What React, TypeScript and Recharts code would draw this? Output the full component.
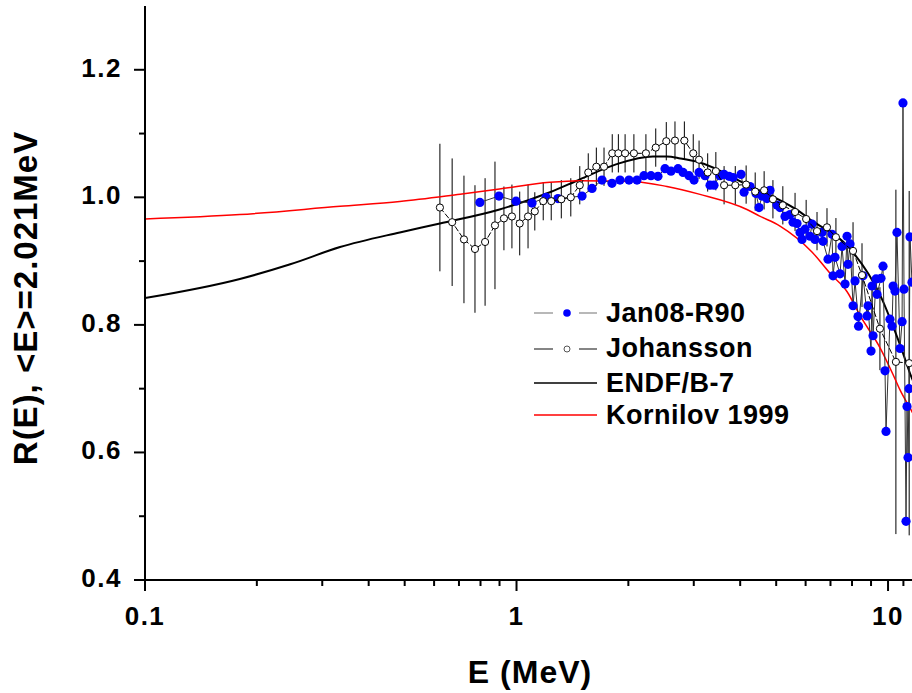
import React from 'react';
import {
  ComposedChart, Line, Scatter, XAxis, YAxis, ErrorBar
} from 'recharts';

const FONT = "'Liberation Sans', Arial, Helvetica, sans-serif";

// Jan08-R90 (filled blue dots)
const janE = [
  0.797, 0.897, 0.997, 1.101, 1.201, 1.293, 1.501, 1.597, 1.699, 1.807,
  1.899, 2.008, 2.110, 2.203, 2.301, 2.403, 2.510, 2.605, 2.721, 2.807,
  2.913, 3.005, 3.099, 3.217, 3.318, 3.401, 3.530, 3.618, 3.733, 3.827,
  4.021, 4.097, 4.252, 4.413, 4.496, 4.580, 4.724, 4.813, 5.025, 5.120,
  5.281, 5.448, 5.550, 5.689, 5.796, 5.868, 5.979, 6.166, 6.243, 6.361,
  6.643, 6.683, 6.894, 7.068, 7.112, 7.20, 7.427, 7.52, 7.662, 7.756,
  7.804, 7.902, 8.051, 8.151, 8.303, 8.33, 8.565, 8.781, 8.836, 9.00,
  9.057, 9.113, 9.284, 9.342, 9.574, 9.694, 9.815, 9.876, 10.12, 10.25,
  10.32, 10.44, 10.57, 10.77, 10.91, 10.97, 11.04, 11.18, 11.25, 11.32,
  11.39, 11.46, 11.60,
];
const janR = [
  0.992, 1.002, 0.994, 0.991, 1.0, 0.998, 1.002, 1.014, 1.027, 1.022,
  1.027, 1.027, 1.027, 1.034, 1.034, 1.033, 1.045, 1.041, 1.045, 1.039,
  1.034, 1.027, 1.039, 1.034, 1.019, 1.019, 1.034, 1.036, 1.033, 1.031,
  1.036, 1.008, 1.017, 1.006, 0.984, 1.002, 0.998, 1.011, 0.988, 0.984,
  0.970, 0.973, 0.961, 0.959, 0.945, 0.934, 0.950, 0.939, 0.958, 0.934,
  0.945, 0.931, 0.903, 0.942, 0.877, 0.906, 0.880, 0.923, 0.864, 0.939,
  0.895, 0.927, 0.830, 0.869, 0.813, 0.798, 0.877, 0.814, 0.830, 0.759,
  0.861, 0.783, 0.872, 0.848, 0.873, 0.892, 0.728, 0.633, 0.809, 0.798,
  0.861, 0.853, 0.945, 0.763, 0.805, 1.148, 0.856, 0.492, 0.672, 0.592,
  0.70, 0.938, 0.867,
];

// Johansson (open circles with error bars)
const johE = [
  0.622, 0.671, 0.722, 0.773, 0.823, 0.875, 0.925, 0.972, 1.02, 1.074,
  1.12, 1.18, 1.24, 1.32, 1.40, 1.48, 1.56, 1.64, 1.72, 1.81,
  1.88, 1.96, 2.07, 2.23, 2.37, 2.53, 2.67, 2.83, 2.99, 3.10,
  3.27, 3.44, 3.62, 3.88, 4.15, 4.39, 4.64, 4.90, 5.21, 5.62,
  6.02, 6.44, 6.85, 7.24, 8.05, 8.51, 9.51, 10.5, 11.4,
];
const johR = [
  0.984, 0.961, 0.934, 0.919, 0.930, 0.956, 0.967, 0.970, 0.959, 0.970,
  0.978, 0.994, 0.994, 0.997, 1.0, 1.019, 1.039, 1.048, 1.048, 1.069,
  1.069, 1.069, 1.069, 1.069, 1.078, 1.088, 1.089, 1.089, 1.069, 1.059,
  1.039, 1.041, 1.019, 1.019, 1.02, 1.009, 1.011, 0.997, 0.9875, 0.977,
  0.966, 0.947, 0.953, 0.9375, 0.916, 0.878, 0.794, 0.742, 0.74,
];
const johErr = [
  0.1, 0.1, 0.1, 0.1, 0.1, 0.1, 0.05, 0.05, 0.05, 0.05,
  0.03, 0.03, 0.03, 0.03, 0.03, 0.03, 0.03, 0.03, 0.03, 0.03,
  0.03, 0.03, 0.03, 0.03, 0.03, 0.03, 0.03, 0.03, 0.03, 0.03,
  0.03, 0.03, 0.03, 0.03, 0.03, 0.03, 0.03, 0.03, 0.03, 0.03,
  0.03, 0.03, 0.03, 0.03, 0.045, 0.05, 0.065, 0.27, 0.27,
];

// ENDF/B-7 curve
const endfE = [0.1, 0.18, 0.246, 0.335, 0.485, 0.622, 0.9, 1.23, 1.48, 1.86, 2.33, 2.54, 2.76, 3.1, 4.17, 5.66, 6.25, 7.8, 9.55, 10.8, 11.6, 12.5];
const endfR = [0.842, 0.872, 0.895, 0.922, 0.945, 0.959, 0.981, 1.008, 1.028, 1.052, 1.064, 1.064, 1.061, 1.055, 1.020, 0.981, 0.963, 0.923, 0.845, 0.767, 0.716, 0.68];

// Kornilov 1999 curve
const kornE = [0.1, 0.18, 0.335, 0.485, 0.705, 0.9, 1.23, 1.48, 2.05, 2.54, 3.1, 4.17, 4.5, 5.12, 6.25, 7.0, 7.76, 8.42, 9.55, 10.3, 10.77, 11.6, 12.5];
const kornR = [0.966, 0.973, 0.986, 0.9935, 1.005, 1.013, 1.0235, 1.026, 1.025, 1.017, 1.005, 0.981, 0.971, 0.955, 0.914, 0.88, 0.852, 0.814, 0.7625, 0.723, 0.698, 0.664, 0.627];

const xTicks = [0.1, 0.2, 0.3, 0.4, 0.5, 0.6, 0.7, 0.8, 0.9, 1, 2, 3, 4, 5, 6, 7, 8, 9, 10, 11, 12, 13];
const xMajor = ['0.1', '1', '10'];
const yTicks = [0.4, 0.5, 0.6, 0.7, 0.8, 0.9, 1.0, 1.1, 1.2];
const yMajor = ['0.4', '0.6', '0.8', '1.0', '1.2'];

const janData = janE.map((E, i) => ({ E, R: janR[i] }));
const johData = johE.map((E, i) => ({ E, R: johR[i], err: johErr[i] }));
const endfData = endfE.map((E, i) => ({ E, R: endfR[i] }));
const kornData = kornE.map((E, i) => ({ E, R: kornR[i] }));

const XTick = (props: any) => {
  const { x, y, payload } = props;
  const label = String(payload.value);
  const major = xMajor.includes(label);
  return (
    <g>
      <line x1={x} x2={x} y1={y} y2={y + (major ? 11 : 6)} stroke="#000" strokeWidth={2} />
      {major && (
        <text x={x} y={y + 45} textAnchor="middle" fontFamily={FONT} fontWeight="bold"
          fontSize={26} letterSpacing={1.5} fill="#000">{label}</text>
      )}
    </g>
  );
};

const YTick = (props: any) => {
  const { x, y, payload } = props;
  const label = Number(payload.value).toFixed(1);
  const major = yMajor.includes(label);
  return (
    <g>
      <line x1={x - (major ? 11 : 6)} x2={x} y1={y} y2={y} stroke="#000" strokeWidth={2} />
      {major && (
        <text x={x - 23} y={y + 7} textAnchor="end" fontFamily={FONT} fontWeight="bold"
          fontSize={26} letterSpacing={1.5} fill="#000">{label}</text>
      )}
    </g>
  );
};

const xTitle = () => (
  <text x={530} y={683} textAnchor="middle" fontFamily={FONT} fontWeight="bold"
    fontSize={32} letterSpacing={1} fill="#000">E (MeV)</text>
);

const yTitle = () => (
  <text x={37} y={298} transform="rotate(-90, 37, 298)" textAnchor="middle" fontFamily={FONT}
    fontWeight="bold" fontSize={33} letterSpacing={1} fill="#000">{'R(E), <E>=2.021MeV'}</text>
);

const BlueDot = (p: any) => <circle cx={p.cx} cy={p.cy} r={4.6} fill="#0000ff" />;
const OpenDot = (p: any) => <circle cx={p.cx} cy={p.cy} r={3.6} fill="#fff" stroke="#000" strokeWidth={1} />;

const legendRows = [
  { name: 'Jan08-R90', h: 34, kind: 'jan' },
  { name: 'Johansson', h: 37, kind: 'joh' },
  { name: 'ENDF/B-7', h: 32, kind: 'endf' },
  { name: 'Kornilov 1999', h: 32, kind: 'korn' },
];

const LegendIcon = ({ kind }: { kind: string }) => (
  <svg width={66} height={20} style={{ display: 'block' }}>
    {kind === 'jan' && (
      <g>
        <line x1={2} x2={21} y1={10} y2={10} stroke="#888" strokeWidth={1.2} />
        <line x1={47} x2={65} y1={10} y2={10} stroke="#888" strokeWidth={1.2} />
        <circle cx={35} cy={10} r={3.8} fill="#0000ff" />
      </g>
    )}
    {kind === 'joh' && (
      <g>
        <line x1={2} x2={21} y1={10} y2={10} stroke="#333" strokeWidth={1.2} />
        <line x1={47} x2={65} y1={10} y2={10} stroke="#333" strokeWidth={1.2} />
        <circle cx={35} cy={10} r={3} fill="#fff" stroke="#555" strokeWidth={1} />
      </g>
    )}
    {kind === 'endf' && <line x1={2} x2={65} y1={10} y2={10} stroke="#000" strokeWidth={1.4} />}
    {kind === 'korn' && <line x1={2} x2={65} y1={10} y2={10} stroke="#ff0000" strokeWidth={1.4} />}
  </svg>
);

const App = () => {
  return (
    <div style={{ position: 'absolute', left: 0, top: 0, width: 912, height: 693, overflow: 'hidden', background: '#fff' }}>
      <ComposedChart width={940} height={693} margin={{ top: 6, right: 0, bottom: 0, left: 0 }}>
        <XAxis
          dataKey="E" type="number" scale="log" domain={[0.1, 13.8]} allowDataOverflow
          ticks={xTicks} interval={0} tick={<XTick />} tickLine={false} tickSize={0} tickMargin={0}
          height={113} axisLine={{ stroke: '#000', strokeWidth: 2 }} label={xTitle}
        />
        <XAxis
          xAxisId="top" orientation="top" type="number" scale="log" domain={[0.1, 13.8]}
          allowDataOverflow tick={false} tickLine={false} height={0}
          axisLine={{ stroke: '#000', strokeWidth: 2 }}
        />
        <YAxis
          dataKey="R" type="number" domain={[0.4, 1.3]} allowDataOverflow
          ticks={yTicks} interval={0} tick={<YTick />} tickLine={false} tickSize={0} tickMargin={0}
          width={145} axisLine={{ stroke: '#000', strokeWidth: 2 }} label={yTitle}
        />
        <Scatter
          data={janData} shape={BlueDot} isAnimationActive={false}
          line={{ stroke: '#333', strokeWidth: 1 }} lineType="joint"
        />
        <Scatter
          data={johData} shape={OpenDot} isAnimationActive={false}
          line={{ stroke: '#000', strokeWidth: 1, strokeDasharray: '6 2' }} lineType="joint"
        >
          <ErrorBar dataKey="err" direction="y" width={0} stroke="#000" strokeWidth={1} />
        </Scatter>
        <Line data={endfData} dataKey="R" type="monotone" stroke="#000" strokeWidth={2}
          dot={false} activeDot={false} isAnimationActive={false} />
        <Line data={kornData} dataKey="R" type="monotone" stroke="#ff0000" strokeWidth={1.5}
          dot={false} activeDot={false} isAnimationActive={false} />
      </ComposedChart>
      <div style={{ position: 'absolute', left: 532, top: 296, fontFamily: FONT, fontWeight: 'bold', fontSize: 27, letterSpacing: 0.5, color: '#000' }}>
        {legendRows.map((r) => (
          <div key={r.name} style={{ height: r.h, display: 'flex', alignItems: 'center' }}>
            <LegendIcon kind={r.kind} />
            <span style={{ marginLeft: 8, lineHeight: 1, whiteSpace: 'nowrap' }}>{r.name}</span>
          </div>
        ))}
      </div>
    </div>
  );
};

export default App;
